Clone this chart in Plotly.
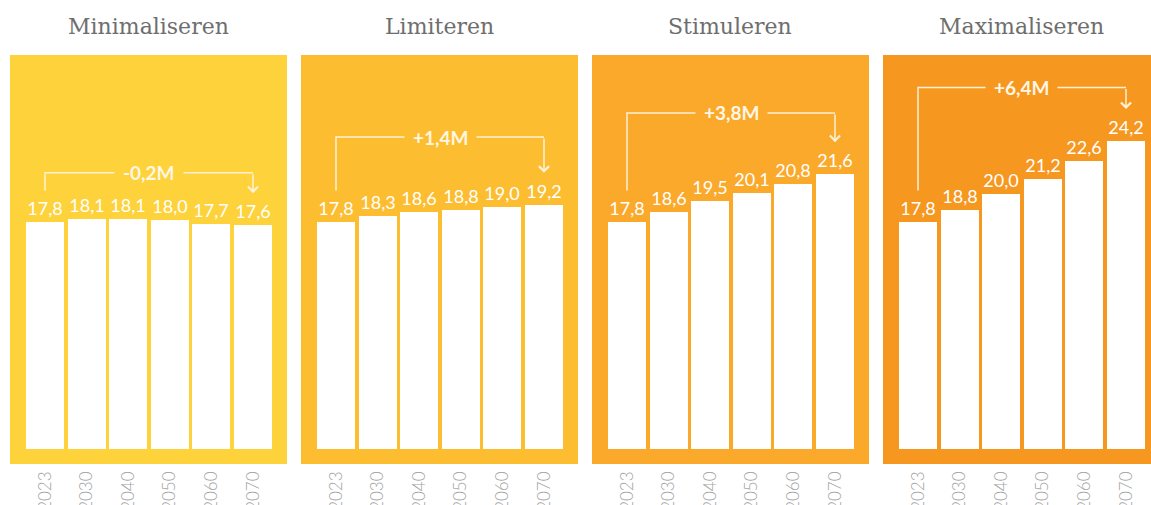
import plotly.graph_objects as go

# ---- data ----
years = ["2023", "2030", "2040", "2050", "2060", "2070"]
scenarios = ["Minimaliseren", "Limiteren", "Stimuleren", "Maximaliseren"]
minimaliseren = [17.8, 18.1, 18.1, 18.0, 17.7, 17.6]
limiteren = [17.8, 18.3, 18.6, 18.8, 19.0, 19.2]
stimuleren = [17.8, 18.6, 19.5, 20.1, 20.8, 21.6]
maximaliseren = [17.8, 18.8, 20.0, 21.2, 22.6, 24.2]
changes = ["-0,2M", "+1,4M", "+3,8M", "+6,4M"]

series = [minimaliseren, limiteren, stimuleren, maximaliseren]

# ---- style / layout constants ----
W, H = 1151, 505
panel_colors = ["#FED23A", "#FCBD31", "#FAA92B", "#F6971F"]
bracket_levels = [21.7, 24.5, 26.4, 28.4]   # y level of the bracket line (data units)
bracket_gap = 2.5                           # distance above value where bracket ends
line_color = "#FFF1D6"
label_font = "Lato, 'Open Sans', sans-serif"

panel_w, panel_step, panel_x0 = 277, 291, 10
panel_top, panel_bot = 55, 464
unit_x = 41.6
first_center = 35
unit_y = 12.73
base_px = 449

fig = go.Figure()
shapes, annotations = [], []

for i, (name, vals) in enumerate(zip(scenarios, series)):
    n = "" if i == 0 else str(i + 1)
    xa, ya = "x" + n, "y" + n
    left = panel_x0 + panel_step * i
    right = min(left + panel_w, W)
    x0r = -first_center / unit_x
    x1r = x0r + (right - left) / unit_x
    y0r = -(panel_bot - base_px) / unit_y
    y1r = (base_px - panel_top) / unit_y

    fig.add_trace(go.Bar(
        x=list(range(len(years))), y=vals, xaxis=xa, yaxis=ya,
        marker=dict(color="white", line=dict(width=0)),
        width=0.913,
        text=[f"{v:.1f}".replace(".", ",") for v in vals],
        textposition="outside", cliponaxis=False,
        textfont=dict(color="white", size=18, family=label_font),
        showlegend=False, hoverinfo="skip",
    ))

    fig.layout["xaxis" + n] = dict(
        domain=[left / W, right / W], range=[x0r, x1r], anchor=ya,
        tickvals=list(range(len(years))), ticktext=years, tickangle=-90,
        tickfont=dict(size=17, color="#A3A3A3", family=label_font, weight=300),
        ticklabelstandoff=3, automargin=False,
        showgrid=False, zeroline=False, showline=False, ticks="",
        fixedrange=True,
    )
    fig.layout["yaxis" + n] = dict(
        domain=[1 - panel_bot / H, 1 - panel_top / H], range=[y0r, y1r],
        anchor=xa, visible=False, fixedrange=True, automargin=False,
    )

    # panel background
    shapes.append(dict(type="rect", xref=xa + " domain", yref=ya + " domain",
                       x0=0, x1=1, y0=0, y1=1, fillcolor=panel_colors[i],
                       line=dict(width=0), layer="below"))

    lvl = bracket_levels[i]
    last = len(vals) - 1
    # bracket: left vertical + horizontal
    shapes.append(dict(type="path", xref=xa, yref=ya,
                       path=f"M 0,{vals[0] + bracket_gap} L 0,{lvl} L {last},{lvl}",
                       line=dict(color=line_color, width=1.5), layer="above"))
    # right vertical with arrow
    annotations.append(dict(x=last, y=vals[-1] + bracket_gap, ax=last, ay=lvl,
                            xref=xa, yref=ya, axref=xa, ayref=ya, text="",
                            showarrow=True, arrowhead=4, arrowsize=1.3,
                            arrowwidth=1.5, arrowcolor=line_color, standoff=0))
    # change label covering the line
    annotations.append(dict(x=last / 2, y=lvl, xref=xa, yref=ya,
                            text=f"<b>{changes[i]}</b>", showarrow=False,
                            bgcolor=panel_colors[i], borderpad=8,
                            font=dict(color="#FFF6E4", size=19, family=label_font)))
    # title
    annotations.append(dict(x=(left + panel_w / 2) / W, y=1 - 26 / H,
                            xref="paper", yref="paper", text=name, showarrow=False,
                            xanchor="center", yanchor="middle",
                            font=dict(size=22, color="#6E6E6E", family="DejaVu Serif")))

fig.update_layout(
    width=W, height=H, margin=dict(l=0, r=0, t=0, b=0, autoexpand=False),
    paper_bgcolor="white", plot_bgcolor="rgba(0,0,0,0)",
    shapes=shapes, annotations=annotations, bargap=0,
)

fig.write_html("out.html", config={"displayModeBar": False},
               post_script="document.body.style.margin='0';document.body.style.overflow='hidden';")
